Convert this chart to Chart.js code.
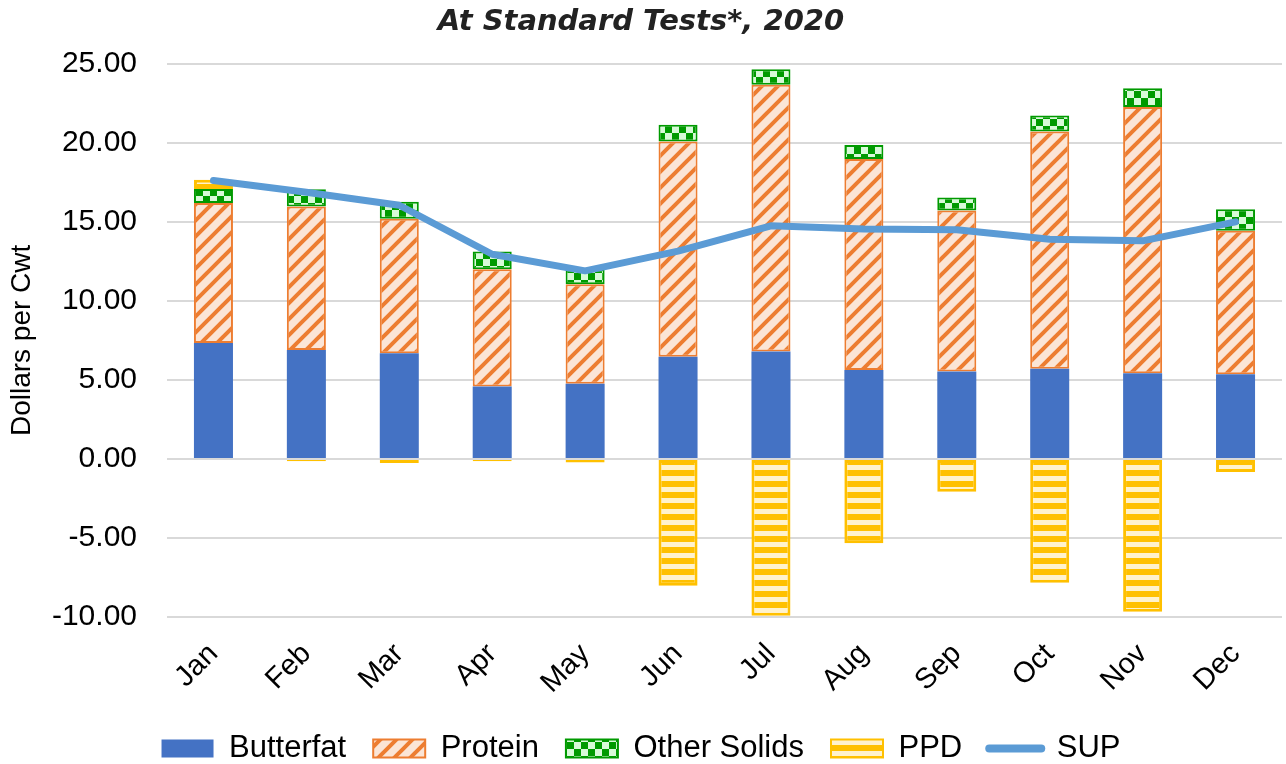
<!DOCTYPE html>
<html>
<head>
<meta charset="utf-8">
<script src="https://cdn.jsdelivr.net/npm/chart.js@4/dist/chart.umd.min.js"></script>
<style>
  html, body { margin: 0; padding: 0; background: #fff; }
  #wrap { width: 1286px; height: 764px; }
</style>
</head>
<body>
<div id="wrap"><canvas id="milkChart"></canvas></div>
<script>
/* ── Data (dollars per cwt) ── */
const months     = ['Jan','Feb','Mar','Apr','May','Jun','Jul','Aug','Sep','Oct','Nov','Dec'];
const butterfat  = [7.34, 6.90, 6.69, 4.58, 4.75, 6.47, 6.79, 5.63, 5.53, 5.70, 5.42, 5.36];
const protein    = [8.86, 9.07, 8.50, 7.42, 6.31, 13.61, 16.88, 13.34, 10.19, 15.02, 16.84, 9.07];
const otherSolid = [0.88, 1.10, 1.09, 1.12, 0.94, 1.06, 0.99, 0.90, 0.82, 1.01, 1.20, 1.37];
const ppd        = [0.58, -0.15, -0.25, -0.15, -0.23, -8.02, -9.92, -5.34, -2.07, -7.83, -9.66, -0.82];
const sup        = [17.62, 16.87, 16.05, 12.95, 11.90, 13.15, 14.75, 14.55, 14.50, 13.90, 13.80, 15.00];
const yTicks     = { min: -10, max: 25, step: 5 };

/* ── Fill patterns ─────────────────────────────────── */
function makePattern(w, h, draw) {
  const c = document.createElement('canvas');
  c.width = w; c.height = h;
  const x = c.getContext('2d');
  draw(x, w, h);
  return x.createPattern(c, 'repeat');
}

const stripeFill = makePattern(16, 16, (x, w, h) => {
  x.fillStyle = '#FBE5D6';
  x.fillRect(0, 0, w, h);
  x.strokeStyle = '#ED7D31';
  x.lineWidth = 4;
  x.beginPath();
  x.moveTo(-4, 20); x.lineTo(20, -4);
  x.moveTo(-8, 8);  x.lineTo(8, -8);
  x.moveTo(8, 24);  x.lineTo(24, 8);
  x.stroke();
});

const checkFill = makePattern(14, 14, (x, w, h) => {
  x.fillStyle = '#009A00';
  x.fillRect(0, 0, w, h);
  x.fillStyle = '#D8FAD8';
  x.fillRect(0, 0, 7, 7);
  x.fillRect(7, 7, 7, 7);
});

const hbarFill = makePattern(8, 11, (x, w, h) => {
  x.fillStyle = '#FFC000';
  x.fillRect(0, 0, w, h);
  x.fillStyle = '#FFF2CC';
  x.fillRect(0, 3, w, 5);
});

Chart.defaults.font.family = "'Liberation Sans', Arial, sans-serif";
Chart.defaults.color = '#000';

const barCommon = { borderSkipped: false, order: 1, categoryPercentage: 1, barPercentage: 0.42 };

new Chart(document.getElementById('milkChart'), {
  type: 'bar',
  data: {
    labels: months,
    datasets: [
      { ...barCommon, label: 'Butterfat',    data: butterfat,  backgroundColor: '#4472C4', borderColor: '#4472C4', borderWidth: 0 },
      { ...barCommon, label: 'Protein',      data: protein,    backgroundColor: stripeFill, borderColor: '#ED7D31', borderWidth: 2 },
      { ...barCommon, label: 'Other Solids', data: otherSolid, backgroundColor: checkFill,  borderColor: '#009A00', borderWidth: 2 },
      { ...barCommon, label: 'PPD',          data: ppd,        backgroundColor: hbarFill,   borderColor: '#FFC000', borderWidth: 3 },
      {
        type: 'line', label: 'SUP', data: sup, order: 0, stack: 'sup',
        borderColor: '#5B9BD5', backgroundColor: '#5B9BD5', borderWidth: 7,
        pointRadius: 0, tension: 0, borderCapStyle: 'round', borderJoinStyle: 'round'
      }
    ]
  },
  options: {
    responsive: true,
    maintainAspectRatio: false,
    animation: false,
    layout: { padding: { left: 0, right: 4, top: 0, bottom: -10 } },
    plugins: {
      title: {
        display: true,
        text: 'At Standard Tests*, 2020',
        color: '#222',
        font: { family: "'DejaVu Sans', Verdana, sans-serif", size: 29, weight: 'bold', style: 'italic' },
        padding: { top: 5, bottom: 24 }
      },
      legend: {
        position: 'bottom',
        labels: {
          usePointStyle: true,
          pointStyleWidth: 52,
          boxHeight: 18,
          padding: 27,
          font: { size: 31 },
          sort: (a, b) => a.datasetIndex - b.datasetIndex,
          generateLabels(chart) {
            const items = Chart.defaults.plugins.legend.labels.generateLabels(chart);
            items.forEach(it => {
              const ds = chart.data.datasets[it.datasetIndex];
              if (ds.type === 'line') {
                it.pointStyle = 'line';
                it.lineCap = 'round';
                it.lineWidth = 8;
                it.strokeStyle = ds.borderColor;
              } else {
                it.pointStyle = 'rect';
                it.fillStyle = ds.backgroundColor;
                it.strokeStyle = ds.borderColor;
                it.lineWidth = ds.borderWidth ? 2 : 0;
              }
            });
            return items;
          }
        }
      },
      tooltip: { enabled: false }
    },
    scales: {
      x: {
        stacked: true,
        grid: { display: false },
        border: { display: false },
        ticks: { font: { size: 29 }, minRotation: 45, maxRotation: 45, padding: 12 },
        afterFit: s => { s.height = 89; }
      },
      y: {
        stacked: true,
        min: yTicks.min,
        max: yTicks.max,
        grid: { color: '#D9D9D9', lineWidth: 2, drawTicks: false },
        border: { display: false },
        ticks: { stepSize: yTicks.step, font: { size: 30 }, padding: 30, callback: v => v.toFixed(2) },
        title: { display: true, text: 'Dollars per Cwt', font: { size: 28 }, padding: { top: 5, bottom: 0 } },
        afterFit: s => { s.width = 167; }
      }
    }
  }
});
</script>
</body>
</html>
